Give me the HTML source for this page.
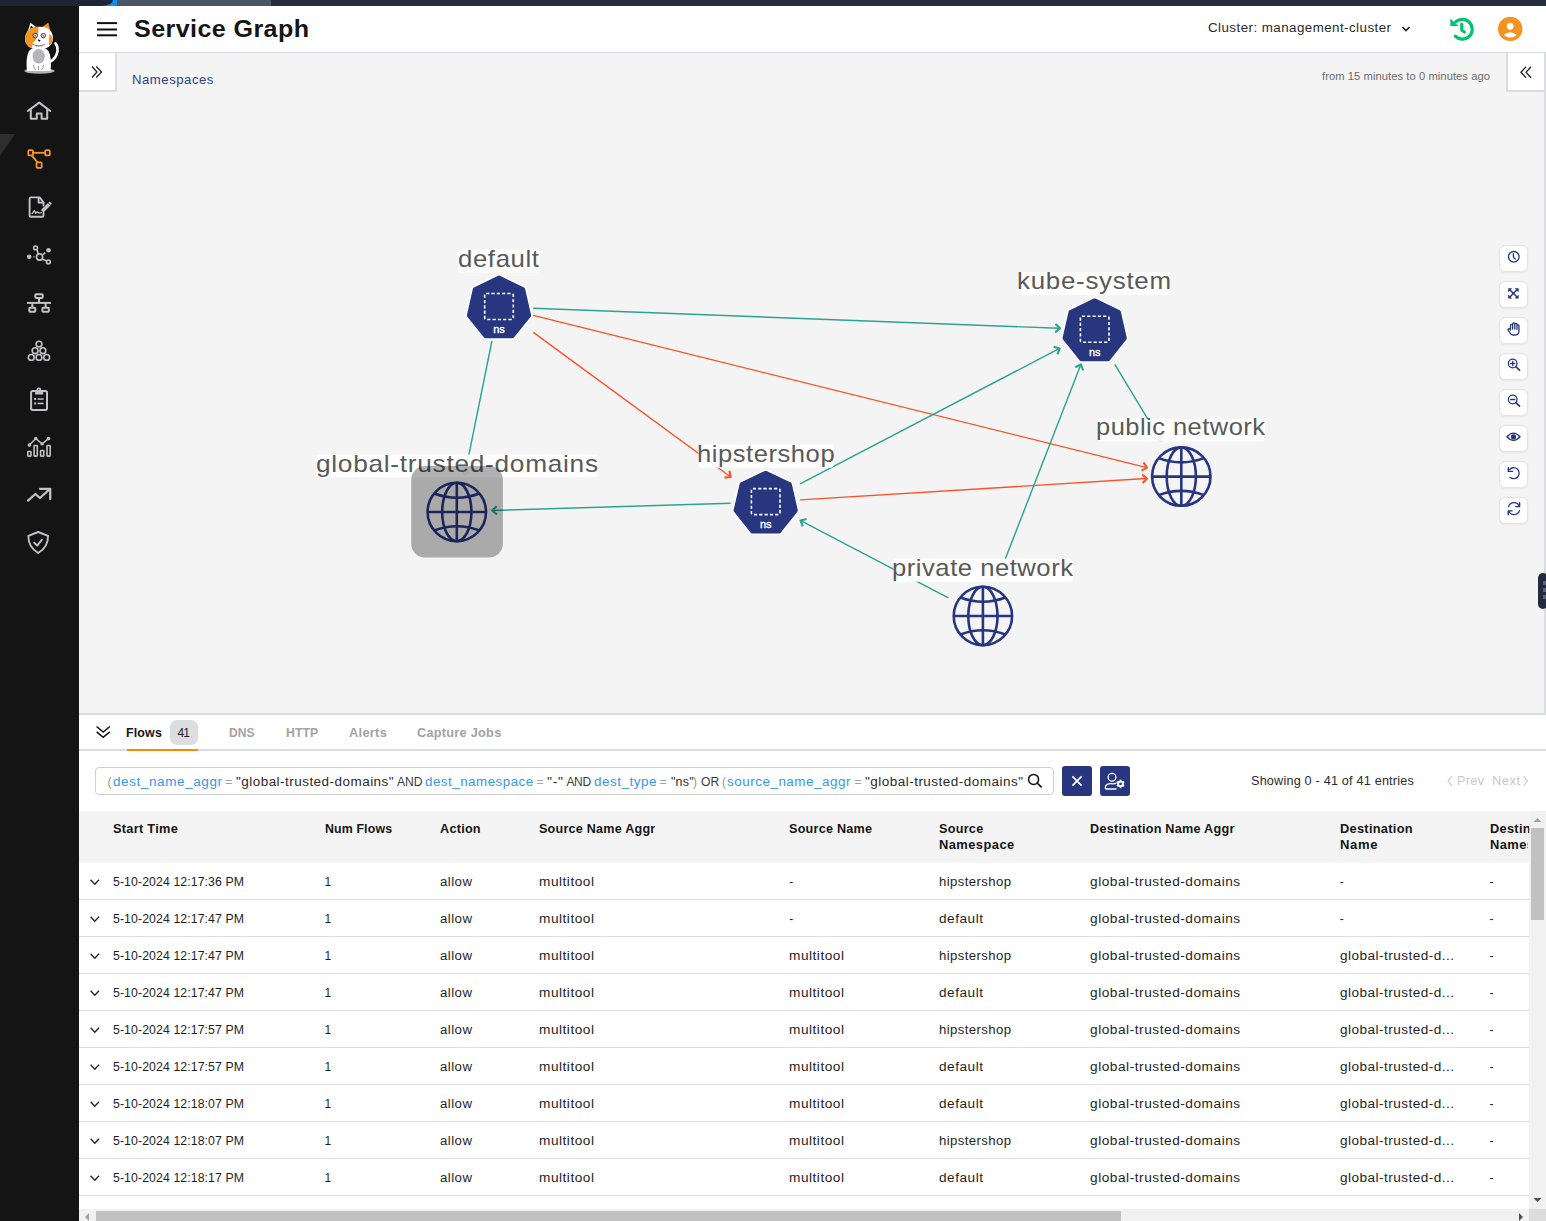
<!DOCTYPE html>
<html><head><meta charset="utf-8">
<style>
html,body{margin:0;padding:0;width:1546px;height:1221px;overflow:hidden;background:#fff;font-family:"Liberation Sans",sans-serif;}
.abs{position:absolute;}
.t{position:absolute;white-space:pre;line-height:1;font-family:"Liberation Sans",sans-serif;}
.ico{position:absolute;overflow:visible;}
.tb{position:absolute;left:1498.5px;width:29.5px;height:27px;box-sizing:border-box;background:#fff;border:1px solid #e3e3e6;border-radius:6px;box-shadow:0 1px 2px rgba(0,0,0,0.06);}
.div{position:absolute;left:79px;width:1450px;height:1px;background:#dedee2;}
</style></head><body>
<!-- top strip -->
<div class="abs" style="left:0;top:0;width:1546px;height:6px;background:#232d3f"></div>
<div class="abs" style="left:0;top:0;width:117px;height:6px;background:#0a8cff"></div>
<div class="abs" style="left:0;top:0;width:113px;height:6px;background:#1f2436;border-bottom-right-radius:12px 6px"></div>
<div class="abs" style="left:117px;top:0;width:154px;height:6px;background:#4b5568"></div>
<!-- sidebar -->
<div class="abs" style="left:0;top:6px;width:79px;height:1215px;background:#141414"></div>
<div class="abs" style="left:0;top:134px;width:15px;height:22px;background:#2e2e2e;clip-path:polygon(0 0,100% 0,0 100%)"></div>
<!-- header -->
<div class="abs" style="left:79px;top:6px;width:1467px;height:46px;background:#fff"></div>
<div class="abs" style="left:79px;top:52px;width:1467px;height:1px;background:#d9dae0"></div>
<!-- graph area -->
<div class="abs" style="left:79px;top:53px;width:1467px;height:660px;background:#f4f4f4"></div>
<div class="abs" style="left:79px;top:53px;width:36px;height:37px;background:#fff;border-right:2px solid #dcdde2;border-bottom:2px solid #dcdde2"></div>
<div class="abs" style="left:1506px;top:53px;width:36px;height:37px;background:#fff;border-left:2px solid #dcdde2;border-bottom:2px solid #dcdde2;border-right:2px solid #dcdde2"></div>
<div class="abs" style="left:1544px;top:92px;width:2px;height:621px;background:#dcdde2"></div>
<div class="abs" style="left:1538px;top:573px;width:10px;height:36px;background:#232c3e;border-radius:6px"></div>
<div class="abs" style="left:1543px;top:581px;width:3px;height:4px;background:#5a6478"></div>
<div class="abs" style="left:1543px;top:588px;width:3px;height:4px;background:#5a6478"></div>
<div class="abs" style="left:1543px;top:595px;width:3px;height:4px;background:#5a6478"></div>
<!-- bottom panel -->
<div class="abs" style="left:79px;top:713px;width:1467px;height:2px;background:#dcdde2"></div>
<div class="abs" style="left:79px;top:715px;width:1467px;height:506px;background:#fff"></div>
<div class="abs" style="left:79px;top:749px;width:1467px;height:2px;background:#dcdde2"></div>
<div class="abs" style="left:127px;top:749px;width:71px;height:2px;background:#f7890c"></div>
<div class="abs" style="left:170px;top:720px;width:28px;height:25px;background:#dcdde1;border-radius:7px"></div>
<div class="abs" style="left:95px;top:767px;width:959px;height:28px;box-sizing:border-box;border:1px solid #cfcfcf;border-radius:4px;background:#fff"></div>
<div class="abs" style="left:1062px;top:766px;width:30px;height:30px;background:#27367f;border-radius:3px"></div>
<div class="abs" style="left:1100px;top:766px;width:30px;height:30px;background:#27367f;border-radius:3px"></div>
<!-- table header -->
<div class="abs" style="left:79px;top:811px;width:1450px;height:52px;background:#f4f4f4"></div>
<div class="div" style="top:899px"></div>
<div class="div" style="top:936px"></div>
<div class="div" style="top:973px"></div>
<div class="div" style="top:1010px"></div>
<div class="div" style="top:1047px"></div>
<div class="div" style="top:1084px"></div>
<div class="div" style="top:1121px"></div>
<div class="div" style="top:1158px"></div>
<div class="div" style="top:1195px"></div>
<!-- scrollbars -->
<div class="abs" style="left:1529px;top:811px;width:17px;height:398px;background:#f1f1f1"></div>
<div class="abs" style="left:1531px;top:828px;width:13px;height:92px;background:#c1c1c1"></div>
<div class="abs" style="left:79px;top:1209px;width:1450px;height:12px;background:#f1f1f1"></div>
<div class="abs" style="left:96px;top:1211px;width:1025px;height:10px;background:#c1c1c1"></div>
<div class="abs" style="left:1529px;top:1209px;width:17px;height:12px;background:#dcdcdc"></div>
<svg class="ico" style="left:0;top:0" width="1546" height="1221">
  <polygon points="1533.5,822 1541.5,822 1537.5,818" fill="#a3a3a3"/>
  <polygon points="1533.5,1198 1541.5,1198 1537.5,1202" fill="#505050"/>
  <polygon points="89,1213 89,1221 85,1217" fill="#a3a3a3"/>
  <polygon points="1519,1213 1519,1221 1523,1217" fill="#505050"/>
</svg>

<svg class='abs' style='left:0;top:0' width='1546' height='1221' viewBox='0 0 1546 1221'><line x1='533.3' y1='308.3' x2='1058.80' y2='328.25' stroke='#2ba393' stroke-width='1.4'/><polyline points='1055.48,323.91 1060.00,328.30 1055.16,332.33' fill='none' stroke='#2ba393' stroke-width='2.1' stroke-linejoin='round' stroke-linecap='butt'/><line x1='533.3' y1='315.4' x2='1145.84' y2='467.31' stroke='#f9532a' stroke-width='1.4'/><polyline points='1143.47,462.38 1147.00,467.60 1141.44,470.56' fill='none' stroke='#f9532a' stroke-width='2.1' stroke-linejoin='round' stroke-linecap='butt'/><line x1='533.3' y1='332.4' x2='729.73' y2='476.29' stroke='#f9532a' stroke-width='1.4'/><polyline points='729.41,470.83 730.70,477.00 724.43,477.63' fill='none' stroke='#f9532a' stroke-width='2.1' stroke-linejoin='round' stroke-linecap='butt'/><line x1='491.9' y1='341' x2='465.04' y2='473.82' stroke='#2ba393' stroke-width='1.4'/><polyline points='469.86,471.25 464.80,475.00 461.60,469.58' fill='none' stroke='#2ba393' stroke-width='2.1' stroke-linejoin='round' stroke-linecap='butt'/><line x1='730.7' y1='503.3' x2='493.40' y2='510.46' stroke='#2ba393' stroke-width='1.4'/><polyline points='497.01,514.57 492.20,510.50 496.75,506.15' fill='none' stroke='#2ba393' stroke-width='2.1' stroke-linejoin='round' stroke-linecap='butt'/><line x1='800.1' y1='483.8' x2='1058.64' y2='348.95' stroke='#2ba393' stroke-width='1.4'/><polyline points='1053.60,346.83 1059.70,348.40 1057.50,354.30' fill='none' stroke='#2ba393' stroke-width='2.1' stroke-linejoin='round' stroke-linecap='butt'/><line x1='800.1' y1='499.9' x2='1145.80' y2='478.57' stroke='#f9532a' stroke-width='1.4'/><polyline points='1142.07,474.58 1147.00,478.50 1142.59,483.00' fill='none' stroke='#f9532a' stroke-width='2.1' stroke-linejoin='round' stroke-linecap='butt'/><line x1='948.4' y1='597.9' x2='801.56' y2='521.06' stroke='#2ba393' stroke-width='1.4'/><polyline points='802.69,526.41 800.50,520.50 806.60,518.94' fill='none' stroke='#2ba393' stroke-width='2.1' stroke-linejoin='round' stroke-linecap='butt'/><line x1='997.5' y1='579' x2='1080.47' y2='365.52' stroke='#2ba393' stroke-width='1.4'/><polyline points='1075.27,367.24 1080.90,364.40 1083.13,370.29' fill='none' stroke='#2ba393' stroke-width='2.1' stroke-linejoin='round' stroke-linecap='butt'/><line x1='1114.8' y1='364.3' x2='1160.08' y2='439.47' stroke='#2ba393' stroke-width='1.4'/><polyline points='1161.90,434.31 1160.70,440.50 1154.67,438.66' fill='none' stroke='#2ba393' stroke-width='2.1' stroke-linejoin='round' stroke-linecap='butt'/><rect x='458' y='249.5' width='82.0' height='23.0' rx='3' fill='#fff' fill-opacity='0.9'/><rect x='1018.8' y='272' width='151.2' height='23.0' rx='3' fill='#fff' fill-opacity='0.9'/><rect x='698.2' y='444.5' width='135.4' height='23.3' rx='3' fill='#fff' fill-opacity='0.9'/><rect x='316.1' y='454.5' width='281.9' height='22.8' rx='3' fill='#fff' fill-opacity='0.9'/><rect x='1097.6' y='419.1' width='167.5' height='22.5' rx='3' fill='#fff' fill-opacity='0.9'/><rect x='893.6' y='558.6' width='179.3' height='23.1' rx='3' fill='#fff' fill-opacity='0.9'/></svg>
<div class='t' style='left:134.3px;top:17.0px;font-size:24px;font-weight:700;color:#151515;letter-spacing:0.391px;transform:scaleX(1.0452);transform-origin:0 0;'>Service Graph</div>
<div class='t' style='left:1207.5px;top:22.4px;font-size:12px;font-weight:400;color:#2b2b2b;letter-spacing:0.400px;transform:scaleX(1.1127);transform-origin:0 0;'>Cluster: management-cluster</div>
<div class='t' style='left:1321.8px;top:70.9px;font-size:11px;font-weight:400;color:#6b6b6b;letter-spacing:0.060px;transform:scaleX(1.0175);transform-origin:0 0;'>from 15 minutes to 0 minutes ago</div>
<div class='t' style='left:132.3px;top:73.8px;font-size:12px;font-weight:400;color:#2f4290;letter-spacing:0.460px;transform:scaleX(1.0974);transform-origin:0 0;'>Namespaces</div>
<div class='t' style='left:458.0px;top:246.7px;font-size:24px;font-weight:400;color:#595959;letter-spacing:0.555px;transform:scaleX(1.0744);transform-origin:0 0;'>default</div>
<div class='t' style='left:1017.3px;top:269.4px;font-size:24px;font-weight:400;color:#595959;letter-spacing:0.665px;transform:scaleX(1.0792);transform-origin:0 0;'>kube-system</div>
<div class='t' style='left:696.7px;top:441.5px;font-size:24px;font-weight:400;color:#595959;letter-spacing:0.508px;transform:scaleX(1.0654);transform-origin:0 0;'>hipstershop</div>
<div class='t' style='left:316.0px;top:451.7px;font-size:24px;font-weight:400;color:#595959;letter-spacing:0.660px;transform:scaleX(1.0931);transform-origin:0 0;'>global-trusted-domains</div>
<div class='t' style='left:1096.3px;top:415.4px;font-size:24px;font-weight:400;color:#595959;letter-spacing:0.452px;transform:scaleX(1.0609);transform-origin:0 0;'>public network</div>
<div class='t' style='left:892.3px;top:555.7px;font-size:24px;font-weight:400;color:#595959;letter-spacing:0.489px;transform:scaleX(1.0673);transform-origin:0 0;'>private network</div>
<div class='t' style='left:126.4px;top:726.9px;font-size:12px;font-weight:700;color:#151515;letter-spacing:0.173px;transform:scaleX(1.0315);transform-origin:0 0;'>Flows</div>
<div class='t' style='left:177.6px;top:726.9px;font-size:12px;font-weight:400;color:#222;letter-spacing:-0.959px;'>41</div>
<div class='t' style='left:228.9px;top:726.9px;font-size:12px;font-weight:700;color:#a3a3a3;letter-spacing:0.051px;transform:scaleX(1.0061);transform-origin:0 0;'>DNS</div>
<div class='t' style='left:285.9px;top:726.9px;font-size:12px;font-weight:700;color:#a3a3a3;letter-spacing:0.112px;transform:scaleX(1.0164);transform-origin:0 0;'>HTTP</div>
<div class='t' style='left:348.9px;top:726.9px;font-size:12px;font-weight:700;color:#a3a3a3;letter-spacing:0.284px;transform:scaleX(1.0668);transform-origin:0 0;'>Alerts</div>
<div class='t' style='left:416.9px;top:726.9px;font-size:12px;font-weight:700;color:#a3a3a3;letter-spacing:0.258px;transform:scaleX(1.0588);transform-origin:0 0;'>Capture Jobs</div>
<div class='t' style='left:107.6px;top:775.6px;font-size:12px;font-weight:400;color:#9a9a78;letter-spacing:0.000px;'>(</div>
<div class='t' style='left:112.6px;top:775.6px;font-size:12px;font-weight:400;color:#3399ee;letter-spacing:0.517px;transform:scaleX(1.1260);transform-origin:0 0;'>dest_name_aggr</div>
<div class='t' style='left:225.4px;top:775.6px;font-size:12px;font-weight:400;color:#a0a0a0;letter-spacing:0.000px;'>=</div>
<div class='t' style='left:235.7px;top:775.6px;font-size:12px;font-weight:400;color:#2a2a2a;letter-spacing:0.418px;transform:scaleX(1.1241);transform-origin:0 0;'>"global-trusted-domains"</div>
<div class='t' style='left:397.2px;top:775.6px;font-size:12px;font-weight:400;color:#3a3a3a;letter-spacing:0.051px;transform:scaleX(1.0061);transform-origin:0 0;'>AND</div>
<div class='t' style='left:424.7px;top:775.6px;font-size:12px;font-weight:400;color:#3399ee;letter-spacing:0.465px;transform:scaleX(1.1102);transform-origin:0 0;'>dest_namespace</div>
<div class='t' style='left:536.6px;top:775.6px;font-size:12px;font-weight:400;color:#a0a0a0;letter-spacing:0.000px;'>=</div>
<div class='t' style='left:547.0px;top:775.6px;font-size:12px;font-weight:400;color:#2a2a2a;letter-spacing:0.597px;transform:scaleX(1.1670);transform-origin:0 0;'>"-"</div>
<div class='t' style='left:566.4px;top:775.6px;font-size:12px;font-weight:400;color:#3a3a3a;letter-spacing:-0.272px;'>AND</div>
<div class='t' style='left:594.4px;top:775.6px;font-size:12px;font-weight:400;color:#3399ee;letter-spacing:0.470px;transform:scaleX(1.1217);transform-origin:0 0;'>dest_type</div>
<div class='t' style='left:659.5px;top:775.6px;font-size:12px;font-weight:400;color:#a0a0a0;letter-spacing:0.000px;'>=</div>
<div class='t' style='left:670.7px;top:775.6px;font-size:12px;font-weight:400;color:#2a2a2a;letter-spacing:0.179px;transform:scaleX(1.0395);transform-origin:0 0;'>"ns"</div>
<div class='t' style='left:693.0px;top:775.6px;font-size:12px;font-weight:400;color:#9a9a78;letter-spacing:0.000px;'>)</div>
<div class='t' style='left:700.6px;top:775.6px;font-size:12px;font-weight:400;color:#3a3a3a;letter-spacing:0.079px;transform:scaleX(1.0067);transform-origin:0 0;'>OR</div>
<div class='t' style='left:722.0px;top:775.6px;font-size:12px;font-weight:400;color:#9a9a78;letter-spacing:0.000px;'>(</div>
<div class='t' style='left:726.5px;top:775.6px;font-size:12px;font-weight:400;color:#3399ee;letter-spacing:0.478px;transform:scaleX(1.1160);transform-origin:0 0;'>source_name_aggr</div>
<div class='t' style='left:854.6px;top:775.6px;font-size:12px;font-weight:400;color:#a0a0a0;letter-spacing:0.000px;'>=</div>
<div class='t' style='left:865.0px;top:775.6px;font-size:12px;font-weight:400;color:#2a2a2a;letter-spacing:0.423px;transform:scaleX(1.1259);transform-origin:0 0;'>"global-trusted-domains"</div>
<div class='t' style='left:1251.4px;top:775.1px;font-size:12px;font-weight:400;color:#2b2b2b;letter-spacing:0.188px;transform:scaleX(1.0537);transform-origin:0 0;'>Showing 0 - 41 of 41 entries</div>
<div class='t' style='left:1457.0px;top:775.1px;font-size:12px;font-weight:400;color:#c9c9c9;letter-spacing:0.292px;transform:scaleX(1.0562);transform-origin:0 0;'>Prev</div>
<div class='t' style='left:1491.7px;top:775.1px;font-size:12px;font-weight:400;color:#c9c9c9;letter-spacing:0.409px;transform:scaleX(1.0805);transform-origin:0 0;'>Next</div>
<div class='t' style='left:113.2px;top:823.0px;font-size:12px;font-weight:700;color:#151515;letter-spacing:0.264px;transform:scaleX(1.0650);transform-origin:0 0;'>Start Time</div>
<div class='t' style='left:324.5px;top:823.0px;font-size:12px;font-weight:700;color:#151515;letter-spacing:0.145px;transform:scaleX(1.0280);transform-origin:0 0;'>Num Flows</div>
<div class='t' style='left:439.7px;top:823.0px;font-size:12px;font-weight:700;color:#151515;letter-spacing:0.248px;transform:scaleX(1.0523);transform-origin:0 0;'>Action</div>
<div class='t' style='left:539.3px;top:823.0px;font-size:12px;font-weight:700;color:#151515;letter-spacing:0.219px;transform:scaleX(1.0480);transform-origin:0 0;'>Source Name Aggr</div>
<div class='t' style='left:789.3px;top:823.0px;font-size:12px;font-weight:700;color:#151515;letter-spacing:0.240px;transform:scaleX(1.0493);transform-origin:0 0;'>Source Name</div>
<div class='t' style='left:939.4px;top:823.0px;font-size:12px;font-weight:700;color:#151515;letter-spacing:0.267px;transform:scaleX(1.0518);transform-origin:0 0;'>Source</div>
<div class='t' style='left:939.4px;top:838.6px;font-size:12px;font-weight:700;color:#151515;letter-spacing:0.394px;transform:scaleX(1.0763);transform-origin:0 0;'>Namespace</div>
<div class='t' style='left:1089.5px;top:823.0px;font-size:12px;font-weight:700;color:#151515;letter-spacing:0.230px;transform:scaleX(1.0551);transform-origin:0 0;'>Destination Name Aggr</div>
<div class='t' style='left:1339.7px;top:823.0px;font-size:12px;font-weight:700;color:#151515;letter-spacing:0.272px;transform:scaleX(1.0666);transform-origin:0 0;'>Destination</div>
<div class='t' style='left:1339.7px;top:838.6px;font-size:12px;font-weight:700;color:#151515;letter-spacing:0.601px;transform:scaleX(1.0902);transform-origin:0 0;'>Name</div>
<div class='t' style='left:1489.5px;top:823.0px;font-size:12px;font-weight:700;color:#151515;letter-spacing:0.272px;transform:scaleX(1.0666);transform-origin:0 0;clip-path:inset(-5px 31.5px -5px -2px)'>Destination</div>
<div class='t' style='left:1489.5px;top:838.6px;font-size:12px;font-weight:700;color:#151515;letter-spacing:0.394px;transform:scaleX(1.0763);transform-origin:0 0;clip-path:inset(-5px 35px -5px -2px)'>Namespace</div>
<div class='t' style='left:113.2px;top:876.0px;font-size:12px;font-weight:400;color:#1e1e1e;letter-spacing:0.096px;transform:scaleX(1.0233);transform-origin:0 0;'>5-10-2024 12:17:36 PM</div>
<div class='t' style='left:324.5px;top:876.0px;font-size:12px;font-weight:400;color:#1e1e1e;letter-spacing:0.000px;'>1</div>
<div class='t' style='left:439.7px;top:876.0px;font-size:12px;font-weight:400;color:#1e1e1e;letter-spacing:0.421px;transform:scaleX(1.1018);transform-origin:0 0;'>allow</div>
<div class='t' style='left:539.3px;top:876.0px;font-size:12px;font-weight:400;color:#1e1e1e;letter-spacing:0.453px;transform:scaleX(1.1385);transform-origin:0 0;'>multitool</div>
<div class='t' style='left:789.3px;top:876.0px;font-size:12px;font-weight:400;color:#1e1e1e;letter-spacing:0.000px;'>-</div>
<div class='t' style='left:939.4px;top:876.0px;font-size:12px;font-weight:400;color:#1e1e1e;letter-spacing:0.363px;transform:scaleX(1.0962);transform-origin:0 0;'>hipstershop</div>
<div class='t' style='left:1089.5px;top:876.0px;font-size:12px;font-weight:400;color:#1e1e1e;letter-spacing:0.471px;transform:scaleX(1.1383);transform-origin:0 0;'>global-trusted-domains</div>
<div class='t' style='left:1339.7px;top:876.0px;font-size:12px;font-weight:400;color:#1e1e1e;letter-spacing:0.000px;'>-</div>
<div class='t' style='left:1489.5px;top:876.0px;font-size:12px;font-weight:400;color:#1e1e1e;letter-spacing:0.000px;'>-</div>
<div class='t' style='left:113.2px;top:913.0px;font-size:12px;font-weight:400;color:#1e1e1e;letter-spacing:0.096px;transform:scaleX(1.0233);transform-origin:0 0;'>5-10-2024 12:17:47 PM</div>
<div class='t' style='left:324.5px;top:913.0px;font-size:12px;font-weight:400;color:#1e1e1e;letter-spacing:0.000px;'>1</div>
<div class='t' style='left:439.7px;top:913.0px;font-size:12px;font-weight:400;color:#1e1e1e;letter-spacing:0.421px;transform:scaleX(1.1018);transform-origin:0 0;'>allow</div>
<div class='t' style='left:539.3px;top:913.0px;font-size:12px;font-weight:400;color:#1e1e1e;letter-spacing:0.453px;transform:scaleX(1.1385);transform-origin:0 0;'>multitool</div>
<div class='t' style='left:789.3px;top:913.0px;font-size:12px;font-weight:400;color:#1e1e1e;letter-spacing:0.000px;'>-</div>
<div class='t' style='left:939.4px;top:913.0px;font-size:12px;font-weight:400;color:#1e1e1e;letter-spacing:0.469px;transform:scaleX(1.1327);transform-origin:0 0;'>default</div>
<div class='t' style='left:1089.5px;top:913.0px;font-size:12px;font-weight:400;color:#1e1e1e;letter-spacing:0.471px;transform:scaleX(1.1383);transform-origin:0 0;'>global-trusted-domains</div>
<div class='t' style='left:1339.7px;top:913.0px;font-size:12px;font-weight:400;color:#1e1e1e;letter-spacing:0.000px;'>-</div>
<div class='t' style='left:1489.5px;top:913.0px;font-size:12px;font-weight:400;color:#1e1e1e;letter-spacing:0.000px;'>-</div>
<div class='t' style='left:113.2px;top:950.0px;font-size:12px;font-weight:400;color:#1e1e1e;letter-spacing:0.096px;transform:scaleX(1.0233);transform-origin:0 0;'>5-10-2024 12:17:47 PM</div>
<div class='t' style='left:324.5px;top:950.0px;font-size:12px;font-weight:400;color:#1e1e1e;letter-spacing:0.000px;'>1</div>
<div class='t' style='left:439.7px;top:950.0px;font-size:12px;font-weight:400;color:#1e1e1e;letter-spacing:0.421px;transform:scaleX(1.1018);transform-origin:0 0;'>allow</div>
<div class='t' style='left:539.3px;top:950.0px;font-size:12px;font-weight:400;color:#1e1e1e;letter-spacing:0.453px;transform:scaleX(1.1385);transform-origin:0 0;'>multitool</div>
<div class='t' style='left:789.3px;top:950.0px;font-size:12px;font-weight:400;color:#1e1e1e;letter-spacing:0.453px;transform:scaleX(1.1385);transform-origin:0 0;'>multitool</div>
<div class='t' style='left:939.4px;top:950.0px;font-size:12px;font-weight:400;color:#1e1e1e;letter-spacing:0.363px;transform:scaleX(1.0962);transform-origin:0 0;'>hipstershop</div>
<div class='t' style='left:1089.5px;top:950.0px;font-size:12px;font-weight:400;color:#1e1e1e;letter-spacing:0.471px;transform:scaleX(1.1383);transform-origin:0 0;'>global-trusted-domains</div>
<div class='t' style='left:1339.7px;top:950.0px;font-size:12px;font-weight:400;color:#1e1e1e;letter-spacing:0.404px;transform:scaleX(1.1324);transform-origin:0 0;'>global-trusted-d...</div>
<div class='t' style='left:1489.5px;top:950.0px;font-size:12px;font-weight:400;color:#1e1e1e;letter-spacing:0.000px;'>-</div>
<div class='t' style='left:113.2px;top:987.0px;font-size:12px;font-weight:400;color:#1e1e1e;letter-spacing:0.096px;transform:scaleX(1.0233);transform-origin:0 0;'>5-10-2024 12:17:47 PM</div>
<div class='t' style='left:324.5px;top:987.0px;font-size:12px;font-weight:400;color:#1e1e1e;letter-spacing:0.000px;'>1</div>
<div class='t' style='left:439.7px;top:987.0px;font-size:12px;font-weight:400;color:#1e1e1e;letter-spacing:0.421px;transform:scaleX(1.1018);transform-origin:0 0;'>allow</div>
<div class='t' style='left:539.3px;top:987.0px;font-size:12px;font-weight:400;color:#1e1e1e;letter-spacing:0.453px;transform:scaleX(1.1385);transform-origin:0 0;'>multitool</div>
<div class='t' style='left:789.3px;top:987.0px;font-size:12px;font-weight:400;color:#1e1e1e;letter-spacing:0.453px;transform:scaleX(1.1385);transform-origin:0 0;'>multitool</div>
<div class='t' style='left:939.4px;top:987.0px;font-size:12px;font-weight:400;color:#1e1e1e;letter-spacing:0.469px;transform:scaleX(1.1327);transform-origin:0 0;'>default</div>
<div class='t' style='left:1089.5px;top:987.0px;font-size:12px;font-weight:400;color:#1e1e1e;letter-spacing:0.471px;transform:scaleX(1.1383);transform-origin:0 0;'>global-trusted-domains</div>
<div class='t' style='left:1339.7px;top:987.0px;font-size:12px;font-weight:400;color:#1e1e1e;letter-spacing:0.404px;transform:scaleX(1.1324);transform-origin:0 0;'>global-trusted-d...</div>
<div class='t' style='left:1489.5px;top:987.0px;font-size:12px;font-weight:400;color:#1e1e1e;letter-spacing:0.000px;'>-</div>
<div class='t' style='left:113.2px;top:1024.0px;font-size:12px;font-weight:400;color:#1e1e1e;letter-spacing:0.096px;transform:scaleX(1.0233);transform-origin:0 0;'>5-10-2024 12:17:57 PM</div>
<div class='t' style='left:324.5px;top:1024.0px;font-size:12px;font-weight:400;color:#1e1e1e;letter-spacing:0.000px;'>1</div>
<div class='t' style='left:439.7px;top:1024.0px;font-size:12px;font-weight:400;color:#1e1e1e;letter-spacing:0.421px;transform:scaleX(1.1018);transform-origin:0 0;'>allow</div>
<div class='t' style='left:539.3px;top:1024.0px;font-size:12px;font-weight:400;color:#1e1e1e;letter-spacing:0.453px;transform:scaleX(1.1385);transform-origin:0 0;'>multitool</div>
<div class='t' style='left:789.3px;top:1024.0px;font-size:12px;font-weight:400;color:#1e1e1e;letter-spacing:0.453px;transform:scaleX(1.1385);transform-origin:0 0;'>multitool</div>
<div class='t' style='left:939.4px;top:1024.0px;font-size:12px;font-weight:400;color:#1e1e1e;letter-spacing:0.363px;transform:scaleX(1.0962);transform-origin:0 0;'>hipstershop</div>
<div class='t' style='left:1089.5px;top:1024.0px;font-size:12px;font-weight:400;color:#1e1e1e;letter-spacing:0.471px;transform:scaleX(1.1383);transform-origin:0 0;'>global-trusted-domains</div>
<div class='t' style='left:1339.7px;top:1024.0px;font-size:12px;font-weight:400;color:#1e1e1e;letter-spacing:0.404px;transform:scaleX(1.1324);transform-origin:0 0;'>global-trusted-d...</div>
<div class='t' style='left:1489.5px;top:1024.0px;font-size:12px;font-weight:400;color:#1e1e1e;letter-spacing:0.000px;'>-</div>
<div class='t' style='left:113.2px;top:1061.0px;font-size:12px;font-weight:400;color:#1e1e1e;letter-spacing:0.096px;transform:scaleX(1.0233);transform-origin:0 0;'>5-10-2024 12:17:57 PM</div>
<div class='t' style='left:324.5px;top:1061.0px;font-size:12px;font-weight:400;color:#1e1e1e;letter-spacing:0.000px;'>1</div>
<div class='t' style='left:439.7px;top:1061.0px;font-size:12px;font-weight:400;color:#1e1e1e;letter-spacing:0.421px;transform:scaleX(1.1018);transform-origin:0 0;'>allow</div>
<div class='t' style='left:539.3px;top:1061.0px;font-size:12px;font-weight:400;color:#1e1e1e;letter-spacing:0.453px;transform:scaleX(1.1385);transform-origin:0 0;'>multitool</div>
<div class='t' style='left:789.3px;top:1061.0px;font-size:12px;font-weight:400;color:#1e1e1e;letter-spacing:0.453px;transform:scaleX(1.1385);transform-origin:0 0;'>multitool</div>
<div class='t' style='left:939.4px;top:1061.0px;font-size:12px;font-weight:400;color:#1e1e1e;letter-spacing:0.469px;transform:scaleX(1.1327);transform-origin:0 0;'>default</div>
<div class='t' style='left:1089.5px;top:1061.0px;font-size:12px;font-weight:400;color:#1e1e1e;letter-spacing:0.471px;transform:scaleX(1.1383);transform-origin:0 0;'>global-trusted-domains</div>
<div class='t' style='left:1339.7px;top:1061.0px;font-size:12px;font-weight:400;color:#1e1e1e;letter-spacing:0.404px;transform:scaleX(1.1324);transform-origin:0 0;'>global-trusted-d...</div>
<div class='t' style='left:1489.5px;top:1061.0px;font-size:12px;font-weight:400;color:#1e1e1e;letter-spacing:0.000px;'>-</div>
<div class='t' style='left:113.2px;top:1098.0px;font-size:12px;font-weight:400;color:#1e1e1e;letter-spacing:0.096px;transform:scaleX(1.0233);transform-origin:0 0;'>5-10-2024 12:18:07 PM</div>
<div class='t' style='left:324.5px;top:1098.0px;font-size:12px;font-weight:400;color:#1e1e1e;letter-spacing:0.000px;'>1</div>
<div class='t' style='left:439.7px;top:1098.0px;font-size:12px;font-weight:400;color:#1e1e1e;letter-spacing:0.421px;transform:scaleX(1.1018);transform-origin:0 0;'>allow</div>
<div class='t' style='left:539.3px;top:1098.0px;font-size:12px;font-weight:400;color:#1e1e1e;letter-spacing:0.453px;transform:scaleX(1.1385);transform-origin:0 0;'>multitool</div>
<div class='t' style='left:789.3px;top:1098.0px;font-size:12px;font-weight:400;color:#1e1e1e;letter-spacing:0.453px;transform:scaleX(1.1385);transform-origin:0 0;'>multitool</div>
<div class='t' style='left:939.4px;top:1098.0px;font-size:12px;font-weight:400;color:#1e1e1e;letter-spacing:0.469px;transform:scaleX(1.1327);transform-origin:0 0;'>default</div>
<div class='t' style='left:1089.5px;top:1098.0px;font-size:12px;font-weight:400;color:#1e1e1e;letter-spacing:0.471px;transform:scaleX(1.1383);transform-origin:0 0;'>global-trusted-domains</div>
<div class='t' style='left:1339.7px;top:1098.0px;font-size:12px;font-weight:400;color:#1e1e1e;letter-spacing:0.404px;transform:scaleX(1.1324);transform-origin:0 0;'>global-trusted-d...</div>
<div class='t' style='left:1489.5px;top:1098.0px;font-size:12px;font-weight:400;color:#1e1e1e;letter-spacing:0.000px;'>-</div>
<div class='t' style='left:113.2px;top:1135.0px;font-size:12px;font-weight:400;color:#1e1e1e;letter-spacing:0.096px;transform:scaleX(1.0233);transform-origin:0 0;'>5-10-2024 12:18:07 PM</div>
<div class='t' style='left:324.5px;top:1135.0px;font-size:12px;font-weight:400;color:#1e1e1e;letter-spacing:0.000px;'>1</div>
<div class='t' style='left:439.7px;top:1135.0px;font-size:12px;font-weight:400;color:#1e1e1e;letter-spacing:0.421px;transform:scaleX(1.1018);transform-origin:0 0;'>allow</div>
<div class='t' style='left:539.3px;top:1135.0px;font-size:12px;font-weight:400;color:#1e1e1e;letter-spacing:0.453px;transform:scaleX(1.1385);transform-origin:0 0;'>multitool</div>
<div class='t' style='left:789.3px;top:1135.0px;font-size:12px;font-weight:400;color:#1e1e1e;letter-spacing:0.453px;transform:scaleX(1.1385);transform-origin:0 0;'>multitool</div>
<div class='t' style='left:939.4px;top:1135.0px;font-size:12px;font-weight:400;color:#1e1e1e;letter-spacing:0.363px;transform:scaleX(1.0962);transform-origin:0 0;'>hipstershop</div>
<div class='t' style='left:1089.5px;top:1135.0px;font-size:12px;font-weight:400;color:#1e1e1e;letter-spacing:0.471px;transform:scaleX(1.1383);transform-origin:0 0;'>global-trusted-domains</div>
<div class='t' style='left:1339.7px;top:1135.0px;font-size:12px;font-weight:400;color:#1e1e1e;letter-spacing:0.404px;transform:scaleX(1.1324);transform-origin:0 0;'>global-trusted-d...</div>
<div class='t' style='left:1489.5px;top:1135.0px;font-size:12px;font-weight:400;color:#1e1e1e;letter-spacing:0.000px;'>-</div>
<div class='t' style='left:113.2px;top:1172.0px;font-size:12px;font-weight:400;color:#1e1e1e;letter-spacing:0.096px;transform:scaleX(1.0233);transform-origin:0 0;'>5-10-2024 12:18:17 PM</div>
<div class='t' style='left:324.5px;top:1172.0px;font-size:12px;font-weight:400;color:#1e1e1e;letter-spacing:0.000px;'>1</div>
<div class='t' style='left:439.7px;top:1172.0px;font-size:12px;font-weight:400;color:#1e1e1e;letter-spacing:0.421px;transform:scaleX(1.1018);transform-origin:0 0;'>allow</div>
<div class='t' style='left:539.3px;top:1172.0px;font-size:12px;font-weight:400;color:#1e1e1e;letter-spacing:0.453px;transform:scaleX(1.1385);transform-origin:0 0;'>multitool</div>
<div class='t' style='left:789.3px;top:1172.0px;font-size:12px;font-weight:400;color:#1e1e1e;letter-spacing:0.453px;transform:scaleX(1.1385);transform-origin:0 0;'>multitool</div>
<div class='t' style='left:939.4px;top:1172.0px;font-size:12px;font-weight:400;color:#1e1e1e;letter-spacing:0.469px;transform:scaleX(1.1327);transform-origin:0 0;'>default</div>
<div class='t' style='left:1089.5px;top:1172.0px;font-size:12px;font-weight:400;color:#1e1e1e;letter-spacing:0.471px;transform:scaleX(1.1383);transform-origin:0 0;'>global-trusted-domains</div>
<div class='t' style='left:1339.7px;top:1172.0px;font-size:12px;font-weight:400;color:#1e1e1e;letter-spacing:0.404px;transform:scaleX(1.1324);transform-origin:0 0;'>global-trusted-d...</div>
<div class='t' style='left:1489.5px;top:1172.0px;font-size:12px;font-weight:400;color:#1e1e1e;letter-spacing:0.000px;'>-</div>
<svg class='abs' style='left:0;top:0' width='1546' height='1221' viewBox='0 0 1546 1221'><polygon points='499.00,277.60 523.16,289.23 529.13,315.38 512.41,336.34 485.59,336.34 468.87,315.38 474.84,289.23' fill='#fff' stroke='#fff' stroke-width='7' stroke-linejoin='round'/><polygon points='499.00,277.60 523.16,289.23 529.13,315.38 512.41,336.34 485.59,336.34 468.87,315.38 474.84,289.23' fill='#27367f' stroke='#27367f' stroke-width='4' stroke-linejoin='round'/><rect x='484.7' y='293.5' width='28.6' height='26' rx='1.5' fill='none' stroke='#fff' stroke-width='1.6' stroke-dasharray='3.2 2.1'/><text x='499.0' y='333.1' text-anchor='middle' font-family='Liberation Sans' font-weight='400' font-size='11' fill='#fff' stroke='#fff' stroke-width='0.35'>ns</text><polygon points='1094.70,300.40 1118.86,312.03 1124.83,338.18 1108.11,359.14 1081.29,359.14 1064.57,338.18 1070.54,312.03' fill='#fff' stroke='#fff' stroke-width='7' stroke-linejoin='round'/><polygon points='1094.70,300.40 1118.86,312.03 1124.83,338.18 1108.11,359.14 1081.29,359.14 1064.57,338.18 1070.54,312.03' fill='#27367f' stroke='#27367f' stroke-width='4' stroke-linejoin='round'/><rect x='1080.4' y='316.3' width='28.6' height='26' rx='1.5' fill='none' stroke='#fff' stroke-width='1.6' stroke-dasharray='3.2 2.1'/><text x='1094.7' y='355.9' text-anchor='middle' font-family='Liberation Sans' font-weight='400' font-size='11' fill='#fff' stroke='#fff' stroke-width='0.35'>ns</text><polygon points='765.70,472.70 789.86,484.33 795.83,510.48 779.11,531.44 752.29,531.44 735.57,510.48 741.54,484.33' fill='#fff' stroke='#fff' stroke-width='7' stroke-linejoin='round'/><polygon points='765.70,472.70 789.86,484.33 795.83,510.48 779.11,531.44 752.29,531.44 735.57,510.48 741.54,484.33' fill='#27367f' stroke='#27367f' stroke-width='4' stroke-linejoin='round'/><rect x='751.4' y='488.6' width='28.6' height='26' rx='1.5' fill='none' stroke='#fff' stroke-width='1.6' stroke-dasharray='3.2 2.1'/><text x='765.7' y='528.2' text-anchor='middle' font-family='Liberation Sans' font-weight='400' font-size='11' fill='#fff' stroke='#fff' stroke-width='0.35'>ns</text><g fill='none' stroke='#27367f' stroke-width='2.6'><circle cx='1181.3' cy='476.6' r='29.2'/><ellipse cx='1181.3' cy='476.6' rx='14.6' ry='29.2'/><line x1='1181.3' y1='447.40000000000003' x2='1181.3' y2='505.8'/><line x1='1152.1' y1='476.6' x2='1210.5' y2='476.6'/><path d='M1158.8,458.1 Q1181.3,466.6 1203.8,458.1'/><path d='M1158.8,495.1 Q1181.3,486.6 1203.8,495.1'/></g><g fill='none' stroke='#27367f' stroke-width='2.6'><circle cx='982.9' cy='616' r='29.2'/><ellipse cx='982.9' cy='616' rx='14.6' ry='29.2'/><line x1='982.9' y1='586.8' x2='982.9' y2='645.2'/><line x1='953.6999999999999' y1='616' x2='1012.1' y2='616'/><path d='M960.4,597.5 Q982.9,606 1005.4,597.5'/><path d='M960.4,634.5 Q982.9,626 1005.4,634.5'/></g><g fill='none' stroke='#27367f' stroke-width='2.6'><circle cx='456.8' cy='512' r='29.2'/><ellipse cx='456.8' cy='512' rx='14.6' ry='29.2'/><line x1='456.8' y1='482.8' x2='456.8' y2='541.2'/><line x1='427.6' y1='512' x2='486.0' y2='512'/><path d='M434.3,493.5 Q456.8,502 479.3,493.5'/><path d='M434.3,530.5 Q456.8,522 479.3,530.5'/></g><rect x='411.2' y='465.9' width='91.7' height='91.7' rx='14' fill='#000' fill-opacity='0.3'/></svg>

<!-- ICONS -->
<div class="tb" style="top:244.5px"></div>
<div class="tb" style="top:280.5px"></div>
<div class="tb" style="top:316.5px"></div>
<div class="tb" style="top:352.5px"></div>
<div class="tb" style="top:388.5px"></div>
<div class="tb" style="top:424.5px"></div>
<div class="tb" style="top:460.5px"></div>
<div class="tb" style="top:496.5px"></div>
<svg class="ico" style="left:0;top:0" width="1546" height="1221" viewBox="0 0 1546 1221">
<g fill="none" stroke="#27367f" stroke-width="1.3" stroke-linecap="round" stroke-linejoin="round">
  <circle cx="1513.8" cy="256.8" r="5.3"/>
  <polyline points="1513.4,253.6 1513.4,257.3 1515.3,259"/>
  <!-- expand -->
  <g stroke-width="1.5">
  <line x1="1509.8" y1="289.8" x2="1517" y2="297"/>
  <line x1="1517" y1="289.8" x2="1509.8" y2="297"/>
  </g>
  <g fill="#27367f" stroke="none">
  <polygon points="1508.2,288.2 1512.2,288.2 1508.2,292.2"/>
  <polygon points="1518.6,288.2 1514.6,288.2 1518.6,292.2"/>
  <polygon points="1508.2,298.6 1512.2,298.6 1508.2,294.6"/>
  <polygon points="1518.6,298.6 1514.6,298.6 1518.6,294.6"/>
  </g>
  <!-- hand -->
  <path d="M1510.5,330 V325.5 Q1510.5,324.3 1511.6,324.3 Q1512.6,324.3 1512.6,325.5 V329 M1512.6,325 V324 Q1512.6,322.9 1513.7,322.9 Q1514.8,322.9 1514.8,324 V329 M1514.8,324.6 Q1514.8,323.5 1515.9,323.5 Q1517,323.5 1517,324.6 V329.5 M1517,326 Q1517,325 1518,325 Q1519,325 1519,326 V331 Q1519,335 1515,335 H1513 Q1511,335 1510,333 L1508.2,330.2 Q1507.6,329 1508.8,328.6 Q1509.8,328.4 1510.5,330"/>
  <!-- zoom in -->
  <circle cx="1512.7" cy="363.5" r="4.3"/>
  <line x1="1515.8" y1="366.6" x2="1519.6" y2="370.2" stroke-width="1.6"/>
  <line x1="1510.6" y1="363.5" x2="1514.8" y2="363.5"/>
  <line x1="1512.7" y1="361.4" x2="1512.7" y2="365.6"/>
  <!-- zoom out -->
  <circle cx="1512.7" cy="399.5" r="4.3"/>
  <line x1="1515.8" y1="402.6" x2="1519.6" y2="406.2" stroke-width="1.6"/>
  <line x1="1510.6" y1="399.5" x2="1514.8" y2="399.5"/>
  <!-- eye -->
  <path d="M1507,436.8 Q1513.5,429.5 1520,436.8 Q1513.5,444 1507,436.8 Z" stroke-width="1.4"/>
  <!-- undo -->
  <path d="M1509.6,469.5 A5.5,5.5 0 1 1 1510.2,477.5"/>
  <polyline points="1508.3,467.4 1508.3,471.4 1512.6,471.4" stroke-width="1.4"/>
  <!-- refresh -->
  <path d="M1508.6,506.6 A5.6,5.6 0 0 1 1519.2,506.4"/>
  <path d="M1519.4,510.6 A5.6,5.6 0 0 1 1508.8,511"/>
  <polyline points="1519.6,502.8 1519.6,506.6 1515.8,506.6" stroke-width="1.4"/>
  <polyline points="1508.2,514.8 1508.2,510.9 1512,510.9" stroke-width="1.4"/>
</g>
<circle cx="1513.5" cy="436.8" r="2.6" fill="#27367f"/>
</svg>
<svg class="ico" style="left:0;top:0" width="1546" height="1221" viewBox="0 0 1546 1221">
<!-- sidebar -->
<g fill="none" stroke="#c2c2c8" stroke-width="2" stroke-linejoin="round" stroke-linecap="round">
  <path d="M27.8,111 L39.2,102.6 L50.3,111"/>
  <path d="M30.8,109 V118.8 H36.8 V113.6 H41.6 V118.8 H47.2 V109"/>
</g>
<g fill="none" stroke="#f7941d" stroke-width="1.8" stroke-linejoin="round">
  <rect x="28.3" y="150.2" width="4.6" height="5.2" rx="1"/>
  <rect x="45.2" y="150.2" width="4.6" height="5.2" rx="1"/>
  <rect x="36.5" y="162.4" width="5.2" height="5.4" rx="1"/>
  <line x1="32.9" y1="152.8" x2="45.2" y2="152.8"/>
  <line x1="31.6" y1="155.4" x2="37.6" y2="162.4"/>
</g>
<g fill="none" stroke="#c2c2c8" stroke-width="1.9" stroke-linejoin="round" stroke-linecap="round">
  <path d="M43.5,205.5 V202.3 L39.6,197.4 H31 Q29.6,197.4 29.6,198.8 V215.4 Q29.6,216.8 31,216.8 H42.1 Q43.5,216.8 43.5,215.4 V212.8"/>
  <path d="M38.6,197.6 V202.6 H43.3"/>
  <path d="M32.2,213.6 L34.3,210.6 L35.8,213.4 L37.3,211.8 L39.4,213.2 L41.2,212.6" stroke-width="1.3"/>
</g>
<g stroke="#c2c2c8" stroke-linecap="butt">
  <line x1="42.2" y1="211.3" x2="49.2" y2="204.3" stroke-width="3.6"/>
  <line x1="49.6" y1="203.9" x2="50.8" y2="202.7" stroke-width="3.2"/>
</g>
<g fill="none" stroke="#c2c2c8" stroke-width="1.6">
  <circle cx="39.6" cy="257" r="3.1"/>
  <circle cx="35.6" cy="247.9" r="1.9"/>
  <circle cx="48.4" cy="261.9" r="1.9"/>
  <line x1="37" y1="250" x2="38.3" y2="254.1"/>
  <line x1="42" y1="259.3" x2="46.8" y2="260.8"/>
  <line x1="43.2" y1="254.6" x2="45.2" y2="252.6"/>
  <line x1="33.4" y1="256.8" x2="34.4" y2="256.8"/>
</g>
<g fill="#c2c2c8">
  <circle cx="48.5" cy="250.2" r="2.3"/>
  <circle cx="29.2" cy="256.7" r="2.3"/>
</g>
<g fill="none" stroke="#c2c2c8" stroke-width="2" stroke-linejoin="round">
  <rect x="35.3" y="294.3" width="7.4" height="3.6" rx="0.8"/>
  <rect x="29.3" y="307.8" width="6" height="3.9" rx="0.8"/>
  <rect x="42.4" y="307.8" width="6.4" height="3.9" rx="0.8"/>
  <line x1="39" y1="298" x2="39" y2="303"/>
  <line x1="27" y1="302.9" x2="51" y2="302.9"/>
  <line x1="32.3" y1="303" x2="32.3" y2="307.8"/>
  <line x1="45.6" y1="303" x2="45.6" y2="307.8"/>
</g>
<g fill="none" stroke="#c2c2c8" stroke-width="1.6">
  <circle cx="39" cy="344.1" r="2.9"/>
  <circle cx="35.1" cy="350.7" r="2.9"/>
  <circle cx="42.9" cy="350.7" r="2.9"/>
  <circle cx="31.3" cy="357.4" r="2.9"/>
  <circle cx="39" cy="357.4" r="2.9"/>
  <circle cx="46.7" cy="357.4" r="2.9"/>
</g>
<g fill="none" stroke="#c2c2c8" stroke-width="2" stroke-linejoin="round">
  <rect x="31.1" y="391.1" width="15.9" height="18.8" rx="1.6"/>
  <circle cx="38.9" cy="390" r="1.6" stroke-width="1.6"/>
</g>
<g fill="#c2c2c8">
  <rect x="35.1" y="391.3" width="8.1" height="3.2"/>
  <rect x="34.2" y="398" width="2" height="2"/>
  <rect x="34.2" y="402.4" width="2" height="2"/>
  <rect x="37.6" y="398.3" width="6" height="1.5"/>
  <rect x="37.6" y="402.7" width="6" height="1.5"/>
</g>
<g fill="none" stroke="#c2c2c8" stroke-width="1.6" stroke-linejoin="round">
  <rect x="27.8" y="451.5" width="3.2" height="4.6" rx="0.6"/>
  <rect x="34.1" y="445.5" width="3.2" height="10.6" rx="0.6"/>
  <rect x="40.6" y="450.5" width="3.2" height="5.6" rx="0.6"/>
  <rect x="47" y="445.5" width="3.2" height="10.6" rx="0.6"/>
  <polyline points="29.4,445.1 35.8,438.5 42.1,443.9 48.5,438.6" stroke-width="1.4"/>
</g>
<g fill="#c2c2c8">
  <circle cx="29.4" cy="445.1" r="1.8"/><circle cx="35.8" cy="438.5" r="1.7"/>
  <circle cx="42.1" cy="443.9" r="1.7"/><circle cx="48.5" cy="438.6" r="1.8"/>
</g>
<g fill="none" stroke="#c2c2c8" stroke-width="2.3" stroke-linecap="round" stroke-linejoin="round">
  <polyline points="28,500.6 35.4,494 39.9,498 49.3,489.5"/>
  <polyline points="40,488.8 50.2,488.8 50.2,499"/>
</g>
<g fill="none" stroke="#c2c2c8" stroke-width="1.9" stroke-linejoin="round" stroke-linecap="round">
  <path d="M38.2,532 L48,535.9 Q48.4,547 38.2,553 Q28,547 28.4,535.9 Z"/>
  <polyline points="34.2,542.8 37.2,545.6 41.8,539.8"/>
</g>
<!-- cat logo -->
<g>
  <ellipse cx="39.5" cy="71" rx="15" ry="2.7" fill="#b4b4b9"/>
  <path d="M50.5,61.5 Q56.5,58 57.5,51 Q58,46 55.5,43.5" fill="none" stroke="#fff" stroke-width="2.6" stroke-linecap="round"/>
  <path d="M27,71 Q25.5,58 29,51 Q33,46.5 38.8,46.5 Q44.5,46.5 48.5,51 Q52,58 50.5,71 Z" fill="#fff"/>
  <ellipse cx="38.7" cy="56.3" rx="6.1" ry="7.3" fill="#b4b4b9"/>
  <path d="M33.5,65 Q34,69 35.5,70 M43.5,65 Q43,69 41.5,70 M38.5,66 V70" fill="none" stroke="#555" stroke-width="0.6"/>
  <path d="M27.2,33 L30.5,22.8 L37,27.8 Z" fill="#fff"/>
  <path d="M29.5,30 L31,25.5 L34,28 Z" fill="#222"/>
  <path d="M41,27.8 L48.3,22.8 L50.6,32 Z" fill="#f39322"/>
  <path d="M38.6,26.8 Q48,26.5 51.5,32 Q54,37 52,43 Q49,48 44,48.5 Q39,49 34,48.5 Q27.5,47.5 25.5,42 Q24.3,36 27.5,31 Q31,27 38.6,26.8 Z" fill="#fff"/>
  <path d="M38.6,26.8 Q31,27 27.5,31 Q24.3,36 25.5,42 Q27,46.5 31.5,48.3 L33,43 Q38.6,39 38.6,26.8 Z" fill="#f39322"/>
  <path d="M49.5,34 Q52.8,36 52.6,41 Q51.5,44.5 49,45 Q48.5,40 49.5,34 Z" fill="#f39322"/>
  <circle cx="35.2" cy="35.6" r="2.2" fill="#fff" stroke="#222" stroke-width="0.9"/>
  <circle cx="43.3" cy="35.6" r="2.2" fill="#fff" stroke="#222" stroke-width="0.9"/>
  <circle cx="35.2" cy="35.8" r="0.8" fill="#333"/>
  <circle cx="43.3" cy="35.8" r="0.8" fill="#333"/>
  <path d="M38.5,39 L39.2,41.5" stroke="#222" stroke-width="0.6"/>
  <ellipse cx="39.3" cy="40.6" rx="1.2" ry="0.8" fill="#111"/>
  <path d="M32.5,44.5 Q38.8,47.5 45,44.5" fill="none" stroke="#444" stroke-width="0.7"/>
  <path d="M35,46 H43" stroke="#777" stroke-width="0.6"/>
</g>
<!-- header -->
<g fill="#111">
  <rect x="97" y="22.1" width="20" height="2"/>
  <rect x="97" y="28.5" width="20" height="2"/>
  <rect x="97" y="34.3" width="20" height="2"/>
</g>
<polyline points="1402.5,27 1406,30.5 1409.5,27" fill="none" stroke="#222" stroke-width="1.6"/>
<g fill="none" stroke="#00c56d" stroke-width="3.2" stroke-linecap="round" stroke-linejoin="round">
  <path d="M1455.8,21.8 A9.9,9.9 0 1 1 1455.3,36.2"/>
  <polyline points="1461.8,24 1461.8,30.2 1464.4,32"/>
</g>
<polygon points="1450.3,18.4 1450.3,26 1458.5,26" fill="#00c56d"/>
<circle cx="1510.2" cy="28.9" r="12.2" fill="#f39322"/>
<circle cx="1510.2" cy="26.3" r="3.4" fill="#fff"/>
<path d="M1503.8,35 Q1510.2,29.6 1516.6,35 Q1510.2,40 1503.8,35 Z" fill="#fff"/>
<!-- graph expand/collapse -->
<polyline points="92,66.5 97,72 92,77.5" fill="none" stroke="#222" stroke-width="1.3"/>
<polyline points="96.3,66.5 101.5,72 96.3,77.5" fill="none" stroke="#222" stroke-width="1.3"/>
<polyline points="1526,66.8 1521,72.3 1526,77.8" fill="none" stroke="#222" stroke-width="1.3"/>
<polyline points="1531,66.8 1526,72.3 1531,77.8" fill="none" stroke="#222" stroke-width="1.3"/>
<!-- bottom -->
<polyline points="96.6,726.5 103.2,732 109.8,726.5" fill="none" stroke="#111" stroke-width="1.5"/>
<polyline points="96.6,731.8 103.2,737.3 109.8,731.8" fill="none" stroke="#111" stroke-width="1.5"/>
<g fill="none" stroke="#111" stroke-width="1.5">
  <circle cx="1033.6" cy="779.4" r="5"/>
  <line x1="1037.3" y1="783.1" x2="1041.6" y2="787.4"/>
</g>
<g stroke="#fff" stroke-width="1.7">
  <line x1="1072.4" y1="776.4" x2="1081.6" y2="785.6"/>
  <line x1="1081.6" y1="776.4" x2="1072.4" y2="785.6"/>
</g>
<g fill="none" stroke="#fff" stroke-width="1.3">
  <circle cx="1112" cy="777.2" r="3.9"/>
  <path d="M1116.5,783.2 Q1113.5,784.4 1111.5,783.6 Q1105.2,783.4 1105.3,788 Q1105.5,789 1107,789 H1116.6"/>
</g>
<g fill="#fff">
  <circle cx="1120.5" cy="783.9" r="3.3"/>
  <g stroke="#fff" stroke-width="1.6">
   <line x1="1120.5" y1="779.6" x2="1120.5" y2="788.2"/>
   <line x1="1116.8" y1="781.8" x2="1124.2" y2="786"/>
   <line x1="1116.8" y1="786" x2="1124.2" y2="781.8"/>
  </g>
  <circle cx="1120.5" cy="783.9" r="1.3" fill="#27367f"/>
</g>
<polyline points="1452,776 1448,781 1452,786" fill="none" stroke="#c9c9c9" stroke-width="1.2"/>
<polyline points="1523.5,776 1527.5,781 1523.5,786" fill="none" stroke="#c9c9c9" stroke-width="1.2"/>
<!-- row chevrons -->
<g fill="none" stroke="#222" stroke-width="1.3">
<polyline points='90.6,879.8 94.8,884.2 99,879.8'/><polyline points='90.6,916.8 94.8,921.2 99,916.8'/><polyline points='90.6,953.8 94.8,958.2 99,953.8'/><polyline points='90.6,990.8 94.8,995.2 99,990.8'/><polyline points='90.6,1027.8 94.8,1032.2 99,1027.8'/><polyline points='90.6,1064.8 94.8,1069.2 99,1064.8'/><polyline points='90.6,1101.8 94.8,1106.2 99,1101.8'/><polyline points='90.6,1138.8 94.8,1143.2 99,1138.8'/><polyline points='90.6,1175.8 94.8,1180.2 99,1175.8'/>
</g>
</svg>

</body></html>
